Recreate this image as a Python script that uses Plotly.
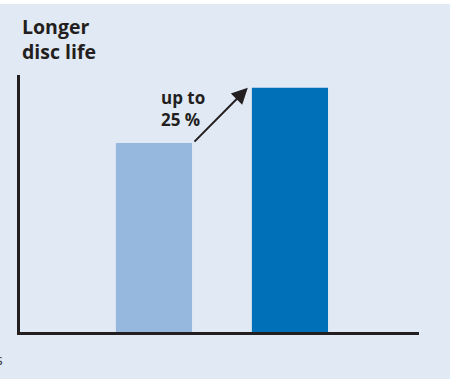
import plotly.graph_objects as go

# ---- data ----
categories = ["Standard", "New"]
values = [73.5, 95.0]
bar_colors = ["#96b8de", "#0071b9"]
title_text = "Longer<br>disc life"
arrow_label = "up to<br>25 %"

# ---- layout geometry (pixels) ----
W, H = 453, 379
L, R, T, B = 20, 34, 75, 47
PW, PH = W - L - R, H - T - B

def px(x):
    return (x - L) / PW

def py(y):
    return 1 - (y - T) / PH

BG = "#e1e9f4"
INK = "#231f20"

fig = go.Figure()
fig.add_trace(go.Bar(
    x=[0, 1], y=values, width=0.56,
    marker=dict(color=bar_colors, line=dict(width=0)),
    hoverinfo="skip",
))

fig.add_shape(type="rect", xref="paper", yref="paper",
              x0=px(0), x1=px(450), y0=py(379), y1=py(4),
              fillcolor=BG, line=dict(width=0), layer="below")

annotations = [
    dict(text="<b>" + title_text.replace("<br>", "</b><br><b>") + "</b>",
         xref="paper", yref="paper", x=px(20), y=py(11),
         xanchor="left", yanchor="top", align="left", showarrow=False,
         font=dict(family="Open Sans", size=19.5, color=INK)),
    dict(text="<b>" + arrow_label.replace("<br>", "</b><br><b>") + "</b>",
         xref="paper", yref="paper", x=px(158.5), y=py(84),
         xanchor="left", yanchor="top", align="left", showarrow=False,
         font=dict(family="Open Sans", size=17, color=INK)),
    # arrow from top of first bar to top of second bar
    dict(x=0.69, y=values[1], ax=0.287, ay=values[0],
         xref="x", yref="y", axref="x", ayref="y",
         text="", showarrow=True, arrowhead=2, arrowsize=1.6,
         arrowwidth=2, arrowcolor=INK, standoff=0, startstandoff=0),
    dict(text="s", xref="paper", yref="paper", x=px(5), y=py(359),
         xanchor="right", yanchor="middle", showarrow=False,
         font=dict(family="Open Sans", size=14, color="#333333")),
]

fig.update_layout(
    width=W, height=H,
    margin=dict(l=L, r=R, t=T, b=B, pad=0),
    paper_bgcolor="white", plot_bgcolor=BG,
    showlegend=False,
    annotations=annotations,
    xaxis=dict(range=[-0.985, 1.949], showgrid=False, zeroline=False,
               showticklabels=False, ticks="", showline=True,
               linecolor=INK, linewidth=3, fixedrange=True),
    yaxis=dict(range=[0, 100], showgrid=False, zeroline=False,
               showticklabels=False, ticks="", showline=True,
               linecolor=INK, linewidth=2.5, fixedrange=True),
)

fig.write_html("out.html", config={"displayModeBar": False},
               post_script="document.body.style.margin='0';document.body.style.overflow='hidden';")
